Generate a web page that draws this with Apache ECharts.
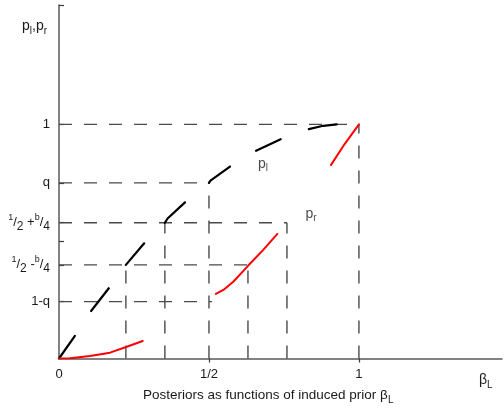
<!DOCTYPE html>
<html>
<head>
<meta charset="utf-8">
<script src="https://cdn.jsdelivr.net/npm/echarts@6/dist/echarts.min.js"></script>
<style>
  html, body { margin: 0; padding: 0; background: #fff; }
  #chart { width: 504px; height: 410px; }
</style>
</head>
<body>
<div id="chart"></div>
<script>
// Axis extents (prior beta_L on x, posterior on y)
const xMax = 1.477;
const yMax = 1.51;

// Named levels on the posterior axis
const yTickValues = [0.243, 0.40, 0.58, 0.75, 1];
const yTickLabels = [
  '1-q',
  '{sup|1}{n|/}{sub|2}{n| -}{sup|b}{n|/}{sub|4}',
  '{sup|1}{n|/}{sub|2}{n| +}{sup|b}{n|/}{sub|4}',
  'q',
  '1'
];
const yMinorTicks = [0.5, yMax];

// Prior axis labels
const xTickValues = [0, 0.5, 1];
const xTickLabels = ['0', '1/2', '1'];

// Left posterior p_l: piecewise segments
const plSegments = [
  [[0, 0], [0.053, 0.097]],
  [[0.107, 0.203], [0.166, 0.30]],
  [[0.223, 0.40], [0.284, 0.492]],
  [[0.353, 0.58], [0.362, 0.598], [0.42, 0.667]],
  [[0.5, 0.75], [0.505, 0.76], [0.57, 0.82]],
  [[0.657, 0.887], [0.739, 0.937]],
  [[0.833, 0.98], [0.881, 0.994], [0.926, 1.0]]
];

// Right posterior p_r: piecewise segments
const prSegments = [
  [[0, 0], [0.037, 0.001], [0.103, 0.011], [0.17, 0.025], [0.226, 0.05], [0.279, 0.075]],
  [[0.523, 0.276], [0.548, 0.293], [0.581, 0.328], [0.631, 0.397], [0.681, 0.464], [0.728, 0.532]],
  [[0.907, 0.827], [0.948, 0.908], [1.0, 1.0]]
];

// Dashed reference lines
const guideLines = [
  [[0, 1], [1, 1]],
  [[0, 0.75], [0.5, 0.75]],
  [[0, 0.58], [0.76, 0.58]],
  [[0, 0.40], [0.63, 0.40]],
  [[0, 0.243], [0.51, 0.243]],
  [[0.223, 0], [0.223, 0.40]],
  [[0.353, 0], [0.353, 0.58]],
  [[0.5, 0], [0.5, 0.75]],
  [[0.63, 0], [0.63, 0.40]],
  [[0.76, 0], [0.76, 0.58]],
  [[1, 0], [1, 1]]
];

// Curve name labels
const curveLabels = [
  { name: '{n|p}{sub|l}', value: [0.68, 0.831] },
  { name: '{n|p}{sub|r}', value: [0.84, 0.617] }
];

const FONT = 'Liberation Sans, Arial, sans-serif';
const TXT = '#1a1a1a';

// Join segments into one path list, broken by '-' gaps
function joinSegments(segs) {
  const out = [];
  segs.forEach((s, i) => {
    if (i > 0) out.push('-');
    s.forEach(p => out.push(p));
  });
  return out;
}

const richStyles = {
  n: { fontSize: 13, fontFamily: FONT, color: TXT, fontWeight: 'normal', verticalAlign: 'middle' },
  sup: { fontSize: 9, fontFamily: FONT, color: TXT, fontWeight: 'normal', verticalAlign: 'top' },
  sub: { fontSize: 12, fontFamily: FONT, color: TXT, fontWeight: 'normal', verticalAlign: 'bottom' }
};

const subOnly = {
  n: { fontSize: 14, fontFamily: FONT, color: TXT, fontWeight: 'normal' },
  sub: { fontSize: 10, fontFamily: FONT, color: TXT, fontWeight: 'normal', padding: [9, 0, 0, 0] }
};

const captionRich = {
  n: { fontSize: 13.5, fontFamily: FONT, color: TXT, fontWeight: 'normal' },
  sub: { fontSize: 10, fontFamily: FONT, color: TXT, fontWeight: 'normal', padding: [9, 0, 0, 0] }
};

function nearest(list, v) {
  let best = -1, d = 1e9;
  list.forEach((x, i) => { if (Math.abs(x - v) < d) { d = Math.abs(x - v); best = i; } });
  return d < 1e-6 ? best : -1;
}

const chart = echarts.init(document.getElementById('chart'), null, { renderer: 'canvas' });

chart.setOption({
  animation: false,
  backgroundColor: '#fff',
  grid: { left: 59, right: 2, top: 5, bottom: 51.5 },
  title: [
    {
      text: '{n|Posteriors as functions of induced prior β}{sub|L}',
      left: 143, top: 386, padding: 0,
      textStyle: { fontWeight: 'normal', rich: captionRich }
    },
    {
      text: '{n|β}{sub|L}',
      left: 479, top: 371, padding: 0,
      textStyle: { fontWeight: 'normal', rich: subOnly }
    }
  ],
  xAxis: {
    type: 'value',
    min: 0, max: xMax,
    axisLine: { lineStyle: { color: '#5a5a5a', width: 1.5 } },
    axisTick: { show: true, inside: false, length: 4, customValues: [0.5, 1],
      lineStyle: { color: '#3a3a3a', width: 1.2 } },
    splitLine: { show: false },
    axisLabel: {
      customValues: xTickValues,
      margin: 9,
      fontSize: 13, fontFamily: FONT, color: TXT,
      formatter: v => { const i = nearest(xTickValues, v); return i >= 0 ? xTickLabels[i] : ''; }
    }
  },
  yAxis: {
    type: 'value',
    min: 0, max: yMax,
    name: '{n|p}{sub|l}{n|,p}{sub|r}',
    nameLocation: 'end',
    nameGap: -31,
    nameTextStyle: { align: 'right', padding: [0, 12, 0, 0], fontSize: 14, color: TXT, rich: subOnly },
    axisLine: { lineStyle: { color: '#5a5a5a', width: 1.5 } },
    axisTick: { show: true, inside: true, length: 5,
      customValues: yTickValues.concat(yMinorTicks),
      lineStyle: { color: '#3a3a3a', width: 1.2 } },
    splitLine: { show: false },
    axisLabel: {
      customValues: yTickValues,
      margin: 9,
      fontSize: 13, fontFamily: FONT, color: TXT,
      lineHeight: 20,
      rich: richStyles,
      formatter: v => { const i = nearest(yTickValues, v); return i >= 0 ? yTickLabels[i] : ''; }
    }
  },
  series: [
    {
      type: 'line',
      data: joinSegments(guideLines),
      symbol: 'none',
      connectNulls: false,
      silent: true,
      lineStyle: { color: '#4a4a4a', width: 1.4, type: [13, 12] },
      z: 1
    },
    {
      type: 'line',
      data: joinSegments(plSegments),
      symbol: 'none',
      connectNulls: false,
      lineStyle: { color: '#000', width: 2.2, cap: 'round' },
      z: 3
    },
    {
      type: 'line',
      data: joinSegments(prSegments),
      symbol: 'none',
      connectNulls: false,
      lineStyle: { color: '#ff0000', width: 2, cap: 'round' },
      z: 3
    },
    {
      type: 'scatter',
      data: curveLabels,
      symbolSize: 0,
      silent: true,
      label: {
        show: true, position: 'inside',
        fontSize: 14, color: TXT, fontFamily: FONT,
        formatter: p => p.name,
        rich: subOnly
      },
      z: 4
    }
  ]
});
</script>
</body>
</html>
